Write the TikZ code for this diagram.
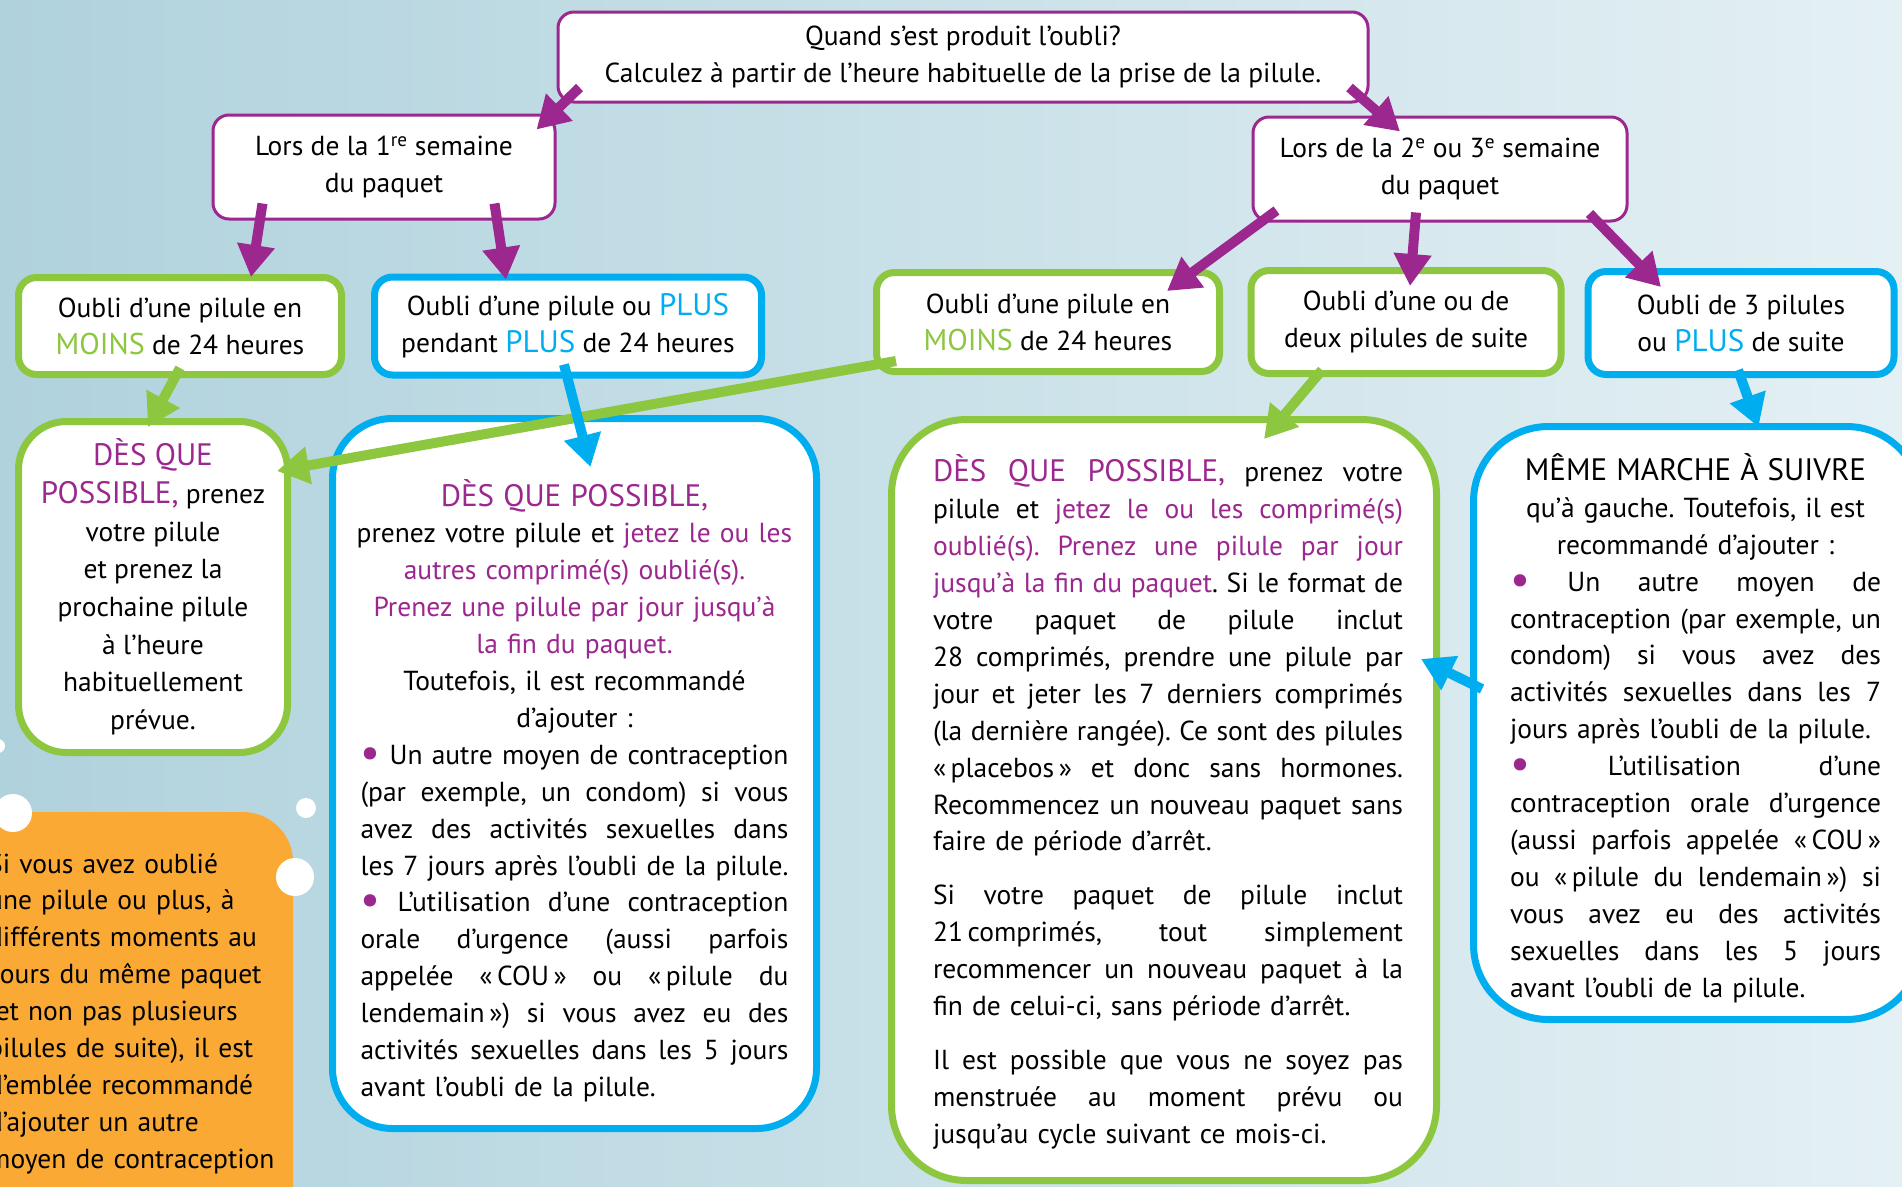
\documentclass[tikz,border=0pt]{standalone}
\usepackage{fontspec}
\setmainfont{PT Sans}
\usetikzlibrary{arrows.meta,calc}
\frenchspacing
\definecolor{pur}{RGB}{156,39,143}
\definecolor{grn}{RGB}{141,198,63}
\definecolor{blu}{RGB}{0,174,239}
\definecolor{org}{RGB}{250,170,52}
\definecolor{bgA}{RGB}{176,210,221}
\definecolor{bgB}{RGB}{228,240,244}
\newcommand\ligne[1]{{\spaceskip=0pt\xspaceskip=0pt\makebox[\hsize][s]{#1}}}
\newcommand\centre[1]{\makebox[\hsize][c]{#1}}
\newcommand\mauve[1]{\textcolor{pur}{#1}}
\newcommand\grosN[1]{{\fontsize{31}{31}\selectfont #1}}
\newcommand\gros[1]{\textcolor{pur}{\grosN{#1}}}
\newcommand\moinsvert{\textcolor{grn}{{\fontsize{30}{30}\selectfont MOINS}}}
\newcommand\plusbleu{\textcolor{blu}{\grosN{PLUS}}}
\newcommand\puce{\textcolor{pur}{\fontsize{44}{44}\selectfont\raisebox{-3pt}{•}}}
\begin{document}
\frenchspacing
\begin{tikzpicture}[x=1pt, y=-1pt, line join=round,
  pbox/.style={draw=pur, line width=3pt, fill=white, rounded corners=16pt, align=center, font=\fontsize{27.5}{36.6}\selectfont},
  gbox/.style={draw=grn, line width=7pt, fill=white, rounded corners=18pt, align=center, font=\fontsize{27.5}{37}\selectfont},
  bbox/.style={gbox, draw=blu},
  txt/.style={inner sep=0pt, font=\fontsize{27.5}{36.9}\selectfont, align=left},
  parr/.style={line width=10pt, pur, -{Triangle[length=32pt,width=36pt]}},
  garr/.style={parr, grn},
  barr/.style={parr, blu}]
\useasboundingbox (0,0) rectangle (1902,1186);
\shade[left color=bgA, right color=bgB] (0,0) rectangle (1902,1186);

% encadre orange et bulles
\fill[org, rounded corners=50pt] (-60,812) rectangle (293,1250);
\node[txt, text width=320pt, anchor=north west] (oubliO) at (-12,853) {Si vous avez oublié\\une pilule ou plus, à\\différents moments au\\cours du même paquet\\(et non pas plusieurs\\pilules de suite), il est\\d’emblée recommandé\\d’ajouter un autre\\moyen de contraception};
\fill[white] (13,813) circle[radius=19pt] (295,877) circle[radius=19pt]
  (306,808) circle[radius=10pt] (-2,746) circle[radius=7pt];

% questions
\node[pbox, minimum width=810pt, minimum height=90pt] (quand) at (963,57) {Quand s’est produit l’oubli?\\Calculez à partir de l’heure habituelle de la prise de la pilule.};
\node[pbox, minimum width=342pt, minimum height=104pt] (sem1) at (384,167) {Lors de la 1\textsuperscript{re} semaine\\du paquet};
\node[pbox, minimum width=374pt, minimum height=104pt] (sem23) at (1440,169) {Lors de la 2\textsuperscript{e} ou 3\textsuperscript{e} semaine\\du paquet};

% cas
\node[gbox, minimum width=323pt, minimum height=97pt] (moinsA) at (180,326) {Oubli d’une pilule en\\\moinsvert{} de 24 heures};
\node[bbox, minimum width=387pt, minimum height=98pt] (plusB) at (568,326) {Oubli d’une pilule ou \plusbleu\\pendant \plusbleu{} de 24 heures};
\node[gbox, minimum width=343pt, minimum height=99pt] (moinsC) at (1048,322) {Oubli d’une pilule en\\\moinsvert{} de 24 heures};
\node[gbox, minimum width=310pt, minimum height=103pt] (deuxD) at (1406,322) {Oubli d’une ou de\\deux pilules de suite};
\node[bbox, minimum width=306pt, minimum height=103pt] (troisE) at (1741,323) {Oubli de 3 pilules\\ou \plusbleu{} de suite};

% consignes
\node[gbox, rounded corners=48pt, minimum width=269pt, minimum height=331pt, font=\fontsize{27.5}{37.7}\selectfont] (possF) at (153,587) {\gros{DÈS QUE}\\\gros{POSSIBLE,} prenez\\votre pilule\\et prenez la\\prochaine pilule\\à l’heure\\habituellement\\prévue.};
\node[bbox, rounded corners=60pt, minimum width=484pt, minimum height=710pt] (possG) at (574.5,773.5) {};
\node[gbox, rounded corners=75pt, minimum width=545pt, minimum height=761pt] (possH) at (1164,800) {};
\node[bbox, rounded corners=75pt, minimum width=448pt, minimum height=593pt] (memeI) at (1697.5,723) {};

\node[txt, text width=428pt] (possGt) at ($(possG)+(0,17)$) {\centre{\gros{DÈS QUE POSSIBLE,}}\\
\centre{prenez votre pilule et \mauve{jetez le ou les}}\\
\centre{\mauve{autres comprimé(s) oublié(s).}}\\
\centre{\mauve{Prenez une pilule par jour jusqu’à}}\\
\centre{\mauve{la fin du paquet.}}\\
\centre{Toutefois, il est recommandé}\\
\centre{d’ajouter :}\\
\ligne{\puce{} Un autre moyen de contraception}\\
\ligne{(par exemple, un condom) si vous}\\
\ligne{avez des activités sexuelles dans}\\
\ligne{les 7 jours après l’oubli de la pilule.}\\
\ligne{\puce{} L’utilisation d’une contraception}\\
\ligne{orale d’urgence (aussi parfois}\\
\ligne{appelée «\,COU\,» ou «\,pilule du}\\
\ligne{lendemain\,») si vous avez eu des}\\
\ligne{activités sexuelles dans les 5 jours}\\
avant l’oubli de la pilule.};

\node[txt, text width=470pt] (possHt) at (1168,802) {\ligne{\gros{DÈS QUE POSSIBLE,} prenez votre}\\
\ligne{pilule et \mauve{jetez le ou les comprimé(s)}}\\
\ligne{\mauve{oublié(s). Prenez une pilule par jour}}\\
\ligne{\mauve{jusqu’à la fin du paquet}. Si le format de}\\
\ligne{votre paquet de pilule inclut}\\
\ligne{28 comprimés, prendre une pilule par}\\
\ligne{jour et jeter les 7 derniers comprimés}\\
\ligne{(la dernière rangée). Ce sont des pilules}\\
\ligne{«\,placebos\,» et donc sans hormones.}\\
\ligne{Recommencez un nouveau paquet sans}\\
faire de période d’arrêt.\\[17pt]
\ligne{Si votre paquet de pilule inclut}\\
\ligne{21\,comprimés, tout simplement}\\
\ligne{recommencer un nouveau paquet à la}\\
fin de celui-ci, sans période d’arrêt.\\[17pt]
\ligne{Il est possible que vous ne soyez pas}\\
\ligne{menstruée au moment prévu ou}\\
jusqu’au cycle suivant ce mois-ci.};

\node[txt, text width=371pt] (memeIt) at (1695.5,728) {\centre{\grosN{MÊME MARCHE À SUIVRE}}\\
\centre{qu’à gauche. Toutefois, il est}\\
\centre{recommandé d’ajouter :}\\
\ligne{\puce{} Un autre moyen de}\\
\ligne{contraception (par exemple, un}\\
\ligne{condom) si vous avez des}\\
\ligne{activités sexuelles dans les 7}\\
jours après l’oubli de la pilule.\\
\ligne{\puce{} L’utilisation d’une}\\
\ligne{contraception orale d’urgence}\\
\ligne{(aussi parfois appelée «\,COU\,»}\\
\ligne{ou «\,pilule du lendemain\,») si}\\
\ligne{vous avez eu des activités}\\
\ligne{sexuelles dans les 5 jours}\\
avant l’oubli de la pilule.};

% fleches
\draw[parr] ($(quand.south west)+(23,-16)$) -- ($(sem1.north east)+(-20,16)$);
\draw[parr] ($(quand.south east)+(-20,-16)$) -- ($(sem23.north)+(-40,16)$);
\draw[parr] ($(sem1.south west)+(51,-17)$) -- ($(moinsA.north)+(71,3)$);
\draw[parr] ($(sem1.south east)+(-62,-17)$) -- ($(plusB.north)+(-62,6)$);
\draw[parr] ($(sem23.south west)+(25,-12)$) -- ($(moinsC.north east)+(-56,22)$);
\draw[parr] ($(sem23.south)+(-24,-10)$) -- ($(deuxD.north)+(4,19)$);
\draw[parr] ($(sem23.south east)+(-39,-9)$) -- ($(troisE.north)+(-80,19)$);
\draw[garr] ($(moinsA.south)+(0,-10)$) -- ($(possF.north)+(-5,9)$);
\draw[garr] ($(moinsC.south west)+(23,-14)$) -- ($(possF.north east)+(-14,53)$);
\draw[barr] ($(plusB.south)+(-4,-14)$) -- ($(possG.north)+(16,52)$);
\draw[garr] ($(deuxD.south)+(-84,-7)$) -- ($(possH.north)+(100,23)$);
\draw[barr] ($(troisE.south)+(-3,-8)$) -- ($(memeI.north)+(61,4)$);
\draw[barr] ($(memeI.west)+(12,-34)$) -- ($(possH.east)+(-19,-141)$);
\end{tikzpicture}
\end{document}
